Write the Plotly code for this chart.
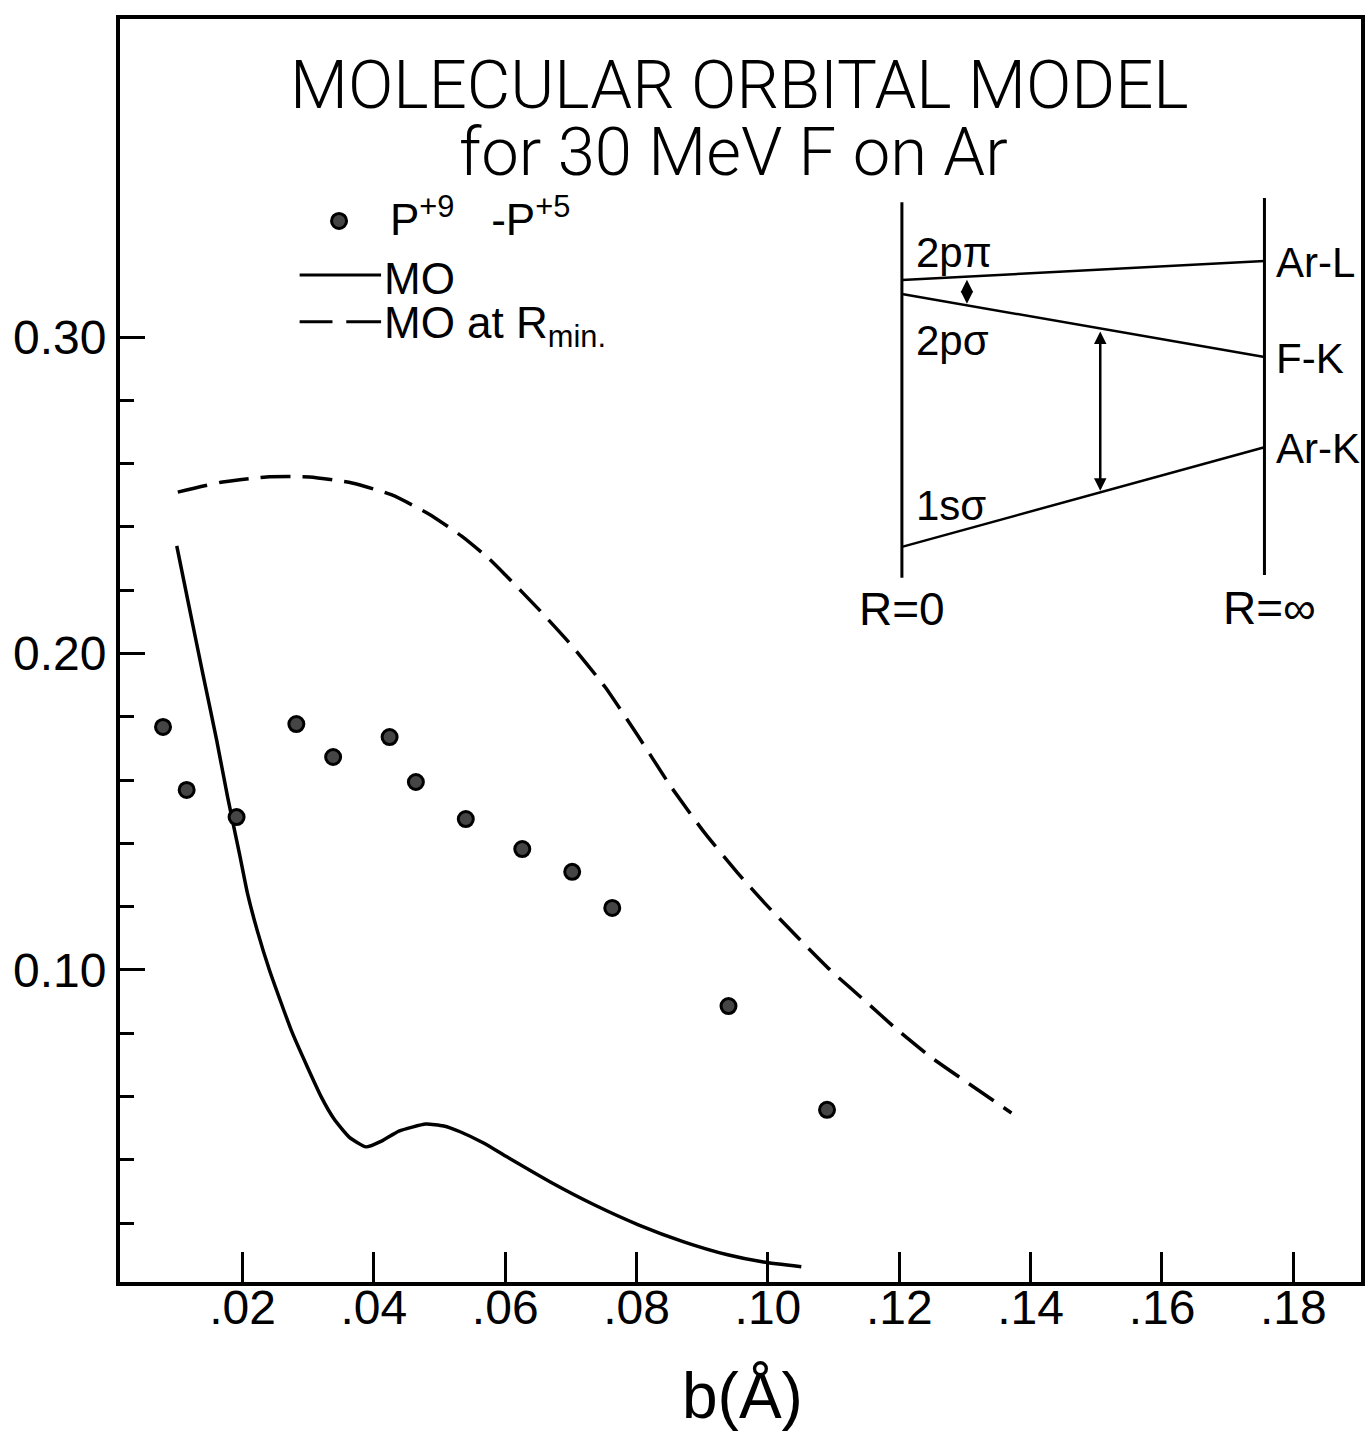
import plotly.graph_objects as go

# ---------------- data ----------------
# measured points  P(+9) - P(+5)  vs impact parameter b (Å)
b_pts = [0.0079, 0.0115, 0.0191, 0.0282, 0.0338, 0.0424, 0.0464, 0.0540,
         0.0626, 0.0702, 0.0763, 0.0940, 0.1090]
p_pts = [0.1768, 0.1569, 0.1483, 0.1777, 0.1673, 0.1736, 0.1594, 0.1477,
         0.1382, 0.1310, 0.1196, 0.0886, 0.0558]

# MO curve (solid)
b_mo = [0.00999, 0.01197, 0.01394, 0.01606, 0.01773, 0.01955, 0.02076, 0.02228,
        0.02410, 0.02759, 0.03199, 0.03395, 0.03624, 0.03882, 0.04124, 0.04382,
        0.04791, 0.05064, 0.05322, 0.05671, 0.06004, 0.06687, 0.07354, 0.08036,
        0.08719, 0.09386, 0.09932, 0.10508]
p_mo = [0.2340, 0.2138, 0.1938, 0.1727, 0.1547, 0.1366, 0.1242, 0.1122,
        0.1000, 0.0801, 0.0599, 0.0529, 0.0472, 0.0441, 0.0460, 0.0491,
        0.0513, 0.0507, 0.0488, 0.0453, 0.0412, 0.0330, 0.0258, 0.0194,
        0.0141, 0.0100, 0.0077, 0.0062]

# MO at R_min (dashed)
b_rmin = [0.01015, 0.01697, 0.02364, 0.03016, 0.03668, 0.04275, 0.04836, 0.05337,
          0.05746, 0.06004, 0.06504, 0.07005, 0.07521, 0.08021, 0.08521, 0.09037,
          0.09538, 0.09947, 0.10448, 0.10948, 0.11464, 0.11964, 0.12465, 0.12980,
          0.13708]
p_rmin = [0.2510, 0.2542, 0.2558, 0.2558, 0.2539, 0.2501, 0.2441, 0.2371,
          0.2301, 0.2248, 0.2141, 0.2027, 0.1894, 0.1740, 0.1580, 0.1433,
          0.1307, 0.1212, 0.1104, 0.1000, 0.0905, 0.0812, 0.0727, 0.0652,
          0.0548]

# correlation-diagram inset
inset_x = [0.1204, 0.1756]           # R=0 , R=inf
inset_ybot = [0.2239, 0.2248]
inset_ytop = [0.3426, 0.3439]
lvl_names = ["2pπ", "2pσ", "1sσ"]
lvl_label_y = [0.3266, 0.2990, 0.2469]
lvl_R0 = [0.3180, 0.3136, 0.2337]
lvl_Rinf = [0.3240, 0.2937, 0.2652]
rinf_labels = ["Ar-L", "F-K", "Ar-K"]
arrow_x = [0.1303, 0.1506]           # between levels (0,1) and (1,2)

x_ticks = [0.02, 0.04, 0.06, 0.08, 0.10, 0.12, 0.14, 0.16, 0.18]
x_ticktext = [".02", ".04", ".06", ".08", ".10", ".12", ".14", ".16", ".18"]
y_ticks = [0.10, 0.20, 0.30]
y_ticktext = ["0.10", "0.20", "0.30"]
y_minor = [0.02, 0.04, 0.06, 0.08, 0.12, 0.14, 0.16, 0.18, 0.22, 0.24, 0.26, 0.28]

FONT = "Liberation Sans, Arial, sans-serif"
TFONT = "Roboto, Liberation Sans, sans-serif"

fig = go.Figure()

fig.add_trace(go.Scatter(x=b_mo, y=p_mo, mode="lines",
                         line=dict(color="black", width=3.5, shape="spline", smoothing=0.5),
                         showlegend=False, hoverinfo="skip"))
fig.add_trace(go.Scatter(x=b_rmin, y=p_rmin, mode="lines",
                         line=dict(color="black", width=3.5, dash="30px,12px",
                                   shape="spline", smoothing=0.5),
                         showlegend=False, hoverinfo="skip"))
fig.add_trace(go.Scatter(x=b_pts, y=p_pts, mode="markers",
                         marker=dict(size=15, color="#454545",
                                     line=dict(color="black", width=3)),
                         showlegend=False))

# inset verticals
for i in range(2):
    fig.add_trace(go.Scatter(x=[inset_x[i], inset_x[i]], y=[inset_ybot[i], inset_ytop[i]],
                             mode="lines", line=dict(color="black", width=3),
                             showlegend=False, hoverinfo="skip"))
# inset levels
for i in range(3):
    fig.add_trace(go.Scatter(x=inset_x, y=[lvl_R0[i], lvl_Rinf[i]], mode="lines",
                             line=dict(color="black", width=2.5),
                             showlegend=False, hoverinfo="skip"))

annotations = []


def lvl_at(i, x):
    t = (x - inset_x[0]) / (inset_x[1] - inset_x[0])
    return lvl_R0[i] + t * (lvl_Rinf[i] - lvl_R0[i])


for k, xa in enumerate(arrow_x):
    ytop = lvl_at(k, xa) - 0.0005
    ybot = lvl_at(k + 1, xa) + 0.0005
    annotations.append(dict(x=xa, y=ybot, ax=xa, ay=ytop, xref="x", yref="y",
                            axref="x", ayref="y", showarrow=True, arrowhead=2,
                            arrowside="end+start", arrowsize=1.0, arrowwidth=2.5,
                            arrowcolor="black", text=""))

# level labels at R=0
for i, name in enumerate(lvl_names):
    annotations.append(dict(x=0.1222, y=lvl_label_y[i], xref="x", yref="y", text=name,
                            showarrow=False, xanchor="left", yanchor="middle",
                            font=dict(family=FONT, size=42, color="black")))
for i, name in enumerate(rinf_labels):
    annotations.append(dict(x=0.1770, y=lvl_Rinf[i] - 0.0005, xref="x", yref="y", text=name,
                            showarrow=False, xanchor="left", yanchor="middle",
                            font=dict(family=FONT, size=42, color="black")))
annotations.append(dict(x=inset_x[0], y=0.2140, xref="x", yref="y", text="R=0",
                        showarrow=False, xanchor="center", yanchor="middle",
                        font=dict(family=FONT, size=46, color="black")))
annotations.append(dict(x=inset_x[1] + 0.0008, y=0.2145, xref="x", yref="y", text="R=∞",
                        showarrow=False, xanchor="center", yanchor="middle",
                        font=dict(family=FONT, size=46, color="black")))

# title
annotations.append(dict(x=0.0957, y=0.3795, xref="x", yref="y",
                        text="MOLECULAR ORBITAL MODEL", showarrow=False,
                        xanchor="center", yanchor="middle",
                        font=dict(family=TFONT, size=67, color="black", weight=300)))
annotations.append(dict(x=0.0947, y=0.3585, xref="x", yref="y",
                        text="for 30 MeV F on Ar", showarrow=False,
                        xanchor="center", yanchor="middle",
                        font=dict(family=TFONT, size=67, color="black", weight=300)))

# legend texts
annotations.append(dict(x=0.0421, y=0.3380, xref="x", yref="y",
                        text="P<sup>+9</sup>   -P<sup>+5</sup>", showarrow=False,
                        xanchor="left", yanchor="middle",
                        font=dict(family=FONT, size=44, color="black")))
annotations.append(dict(x=0.0413, y=0.3186, xref="x", yref="y",
                        text="MO", showarrow=False, xanchor="left", yanchor="middle",
                        font=dict(family=FONT, size=44, color="black")))
annotations.append(dict(x=0.0413, y=0.3036, xref="x", yref="y",
                        text="MO at R<sub>min.</sub>", showarrow=False,
                        xanchor="left", yanchor="middle",
                        font=dict(family=FONT, size=44, color="black")))

# x-axis title
annotations.append(dict(x=0.0961, y=-0.090, xref="x", yref="paper",
                        text="b(Å)", showarrow=False, xanchor="center", yanchor="middle",
                        font=dict(family=FONT, size=64, color="black")))

shapes = [
    # legend samples
    dict(type="line", xref="x", yref="y", x0=0.0287, x1=0.0411, y0=0.3196, y1=0.3196,
         line=dict(color="black", width=3)),
    dict(type="line", xref="x", yref="y", x0=0.0287, x1=0.0337, y0=0.3048, y1=0.3048,
         line=dict(color="black", width=3)),
    dict(type="line", xref="x", yref="y", x0=0.0358, x1=0.0411, y0=0.3048, y1=0.3048,
         line=dict(color="black", width=3)),
]

fig.add_trace(go.Scatter(x=[0.0347], y=[0.3367], mode="markers",
                         marker=dict(size=15, color="#454545",
                                     line=dict(color="black", width=3)),
                         showlegend=False, hoverinfo="skip"))

fig.update_layout(
    width=1367, height=1431,
    margin=dict(l=120, r=2, t=19, b=149),
    paper_bgcolor="white", plot_bgcolor="white",
    annotations=annotations, shapes=shapes,
    font=dict(family=FONT, color="black"),
    xaxis=dict(range=[0.00135, 0.1903], showgrid=False, zeroline=False,
               showline=True, mirror=True, linecolor="black", linewidth=4,
               tickmode="array", tickvals=x_ticks, ticktext=x_ticktext,
               ticks="inside", ticklen=30, tickwidth=3, tickcolor="black",
               ticklabelstandoff=-20,
               tickfont=dict(family=FONT, size=48, color="black")),
    yaxis=dict(range=[0.0014, 0.4005], showgrid=False, zeroline=False,
               showline=True, mirror=True, linecolor="black", linewidth=4,
               tickmode="array", tickvals=y_ticks, ticktext=y_ticktext,
               ticks="inside", ticklen=25, tickwidth=3, tickcolor="black",
               tickfont=dict(family=FONT, size=48, color="black"),
               minor=dict(tickmode="array", tickvals=y_minor, ticks="inside",
                          ticklen=14, tickwidth=3, tickcolor="black", showgrid=False)),
)

fig.write_html("out.html")
